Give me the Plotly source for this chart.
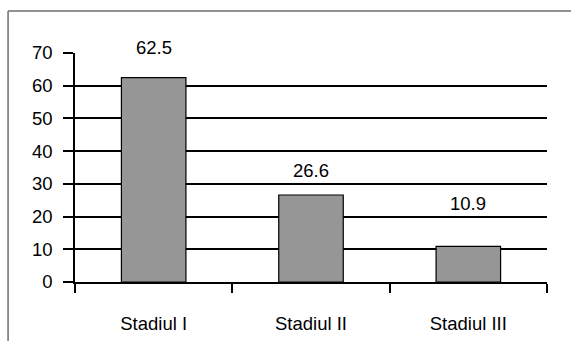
import plotly.graph_objects as go

categories = ["Stadiul I", "Stadiul II", "Stadiul III"]
values = [62.5, 26.6, 10.9]
label_texts = ["62.5", "26.6", "10.9"]
y_ticks = [0, 10, 20, 30, 40, 50, 60, 70]

# style: vertical offset (px) of each value label above its bar top
label_shift = [30, 24, 43]

FONT = "Liberation Sans, Arial, sans-serif"
FS = 18.5

fig = go.Figure()
fig.add_trace(go.Bar(
    x=categories, y=values,
    marker=dict(color="#969696", line=dict(color="black", width=1.2)),
    width=0.41,
    hoverinfo="skip",
))

for c, v, t, s in zip(categories, values, label_texts, label_shift):
    fig.add_annotation(x=c, y=v, text=t, showarrow=False, yanchor="middle",
                       yshift=s, font=dict(family=FONT, size=FS, color="black"))

L, R, T, B = 75, 571 - 547.5, 53, 341 - 282
W = 571 - L - R
H = 341 - T - B

def px_x(p):
    return (p - L) / W

def px_y(p):
    return (341 - B - p) / H

fig.add_shape(type="line", xref="paper", yref="paper",
              x0=px_x(8), x1=px_x(575), y0=px_y(11), y1=px_y(11),
              line=dict(color="#6e6e6e", width=1.5))
fig.add_shape(type="line", xref="paper", yref="paper",
              x0=px_x(8), x1=px_x(8), y0=px_y(11), y1=px_y(345),
              line=dict(color="#6e6e6e", width=1.5))

fig.update_layout(
    width=571, height=341,
    margin=dict(l=L, r=R, t=T, b=B),
    paper_bgcolor="white", plot_bgcolor="white",
    showlegend=False,
    font=dict(family=FONT, size=FS, color="black"),
    xaxis=dict(
        type="category",
        tickson="boundaries",
        ticks="outside", ticklen=9, tickwidth=1.5, tickcolor="black",
        showline=True, linecolor="black", linewidth=1.5,
        showgrid=False, zeroline=False,
        ticklabelstandoff=24,
        automargin=False,
        tickfont=dict(family=FONT, size=FS, color="black"),
    ),
    yaxis=dict(
        range=[0, 70], tickvals=y_ticks,
        ticks="outside", ticklen=10, tickwidth=1.5, tickcolor="black",
        showline=True, linecolor="black", linewidth=1.5,
        showgrid=True, gridcolor="black", gridwidth=1.5,
        zeroline=False,
        ticklabelstandoff=7,
        automargin=False,
        tickfont=dict(family=FONT, size=FS, color="black"),
    ),
)

fig.write_html("out.html")
